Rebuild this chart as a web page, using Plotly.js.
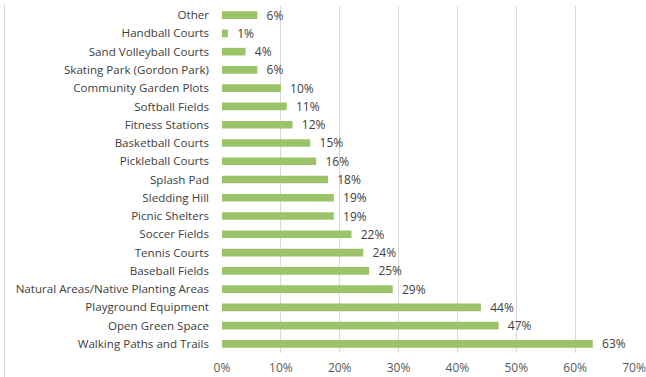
<!DOCTYPE html>
<html>
<head>
<meta charset="utf-8">
<script src="https://cdn.plot.ly/plotly-3.0.1.min.js"></script>
<style>
html,body{margin:0;padding:0;background:#fff;}
#wrap{position:relative;width:646px;height:377px;}
#chart{width:646px;height:377px;}
#frame{position:absolute;left:4px;top:5px;width:1px;height:372px;background:#d6d6d6;z-index:5;}
</style>
</head>
<body>
<div id="wrap"><div id="chart"></div><div id="frame"></div></div>
<script>
// Categories top-to-bottom as shown in the reference
const categories = [
  "Other",
  "Handball Courts",
  "Sand Volleyball Courts",
  "Skating Park (Gordon Park)",
  "Community Garden Plots",
  "Softball Fields",
  "Fitness Stations",
  "Basketball Courts",
  "Pickleball Courts",
  "Splash Pad",
  "Sledding Hill",
  "Picnic Shelters",
  "Soccer Fields",
  "Tennis Courts",
  "Baseball Fields",
  "Natural Areas/Native Planting Areas",
  "Playground Equipment",
  "Open Green Space",
  "Walking Paths and Trails"
];
const values = [6, 1, 4, 6, 10, 11, 12, 15, 16, 18, 19, 19, 22, 24, 25, 29, 44, 47, 63];
const tickValues = [0, 10, 20, 30, 40, 50, 60, 70];
const tickLabels = ["0%", "10%", "20%", "30%", "40%", "50%", "60%", "70%"];

const font = "'Open Sans', 'Noto Sans', sans-serif";

const trace = {
  type: "bar",
  orientation: "h",
  y: categories,
  x: values,
  width: 0.42,
  marker: {color: "#9bc46a"},
  text: values.map(v => "  " + v + "%"),
  textposition: "outside",
  constraintext: "none",
  textfont: {family: font, size: 12, color: "#404040"},
  outsidetextfont: {family: font, size: 12, color: "#404040"},
  cliponaxis: false,
  hoverinfo: "none"
};

const layout = {
  width: 646,
  height: 377,
  margin: {l: 222, r: 12, t: 6, b: 24},
  paper_bgcolor: "#ffffff",
  plot_bgcolor: "#ffffff",
  showlegend: false,
  xaxis: {
    range: [0, 70],
    tickvals: tickValues,
    ticktext: tickLabels,
    showgrid: true,
    gridcolor: "#d9d9d9",
    gridwidth: 1,
    zeroline: false,
    showline: false,
    ticks: "",
    ticklabelstandoff: 6,
    tickfont: {family: font, size: 12, color: "#595959"},
    fixedrange: true
  },
  yaxis: {
    type: "category",
    autorange: "reversed",
    showgrid: false,
    zeroline: false,
    showline: false,
    ticks: "",
    ticklabelstandoff: 12,
    tickfont: {family: font, size: 11.6, color: "#404040"},
    fixedrange: true
  }
};

Plotly.newPlot("chart", [trace], layout, {displayModeBar: false, staticPlot: true});
</script>
</body>
</html>
